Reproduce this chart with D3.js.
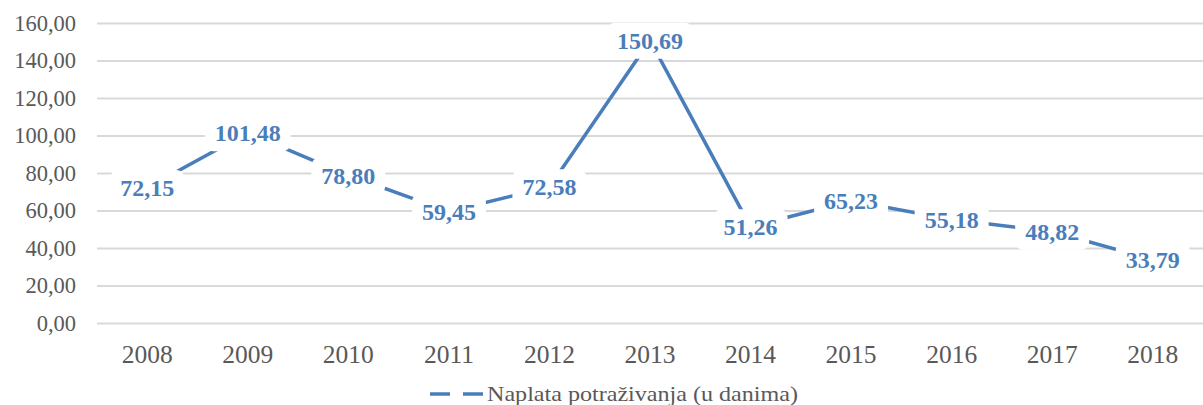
<!DOCTYPE html>
<html><head><meta charset="utf-8">
<script src="https://cdn.jsdelivr.net/npm/d3@7"></script>
<style>body{margin:0;background:#fff}svg{display:block}</style>
</head><body>
<svg id="c" width="1203" height="405"></svg>
<script>
const categories = ["2008","2009","2010","2011","2012","2013","2014","2015","2016","2017","2018"];
const values = [72.15,101.48,78.80,59.45,72.58,150.69,51.26,65.23,55.18,48.82,33.79];
const yTicks = [0,20,40,60,80,100,120,140,160];
const seriesName = "Naplata potraživanja (u danima)";

const svg = d3.select("#c");
const W = 1203, H = 405;
const m = {left: 97, right: 0, top: 23, bottom: 82};
const x = d3.scaleBand().domain(categories).range([m.left, W - m.right]);
const y = d3.scaleLinear().domain([0,160]).range([H - m.bottom, m.top]);
const fmt = v => v.toFixed(2).replace(".", ",");
const color = "#4a7ebb";
const font = "'Liberation Serif','Times New Roman',serif";

// grid + y axis
const yAxis = d3.axisLeft(y).tickValues(yTicks).tickFormat(fmt).tickSize(-(W - m.left - m.right)).tickPadding(21);
const gy = svg.append("g").attr("transform", `translate(${m.left},0)`).call(yAxis);
gy.select(".domain").remove();
gy.selectAll(".tick line").attr("stroke", "#d9d9d9").attr("stroke-width", 2);
gy.selectAll(".tick text").attr("fill", "#595959").style("font-family", font).style("font-size", "22.5px");

// x axis
const xAxis = d3.axisBottom(x).tickSize(0).tickPadding(0);
const gx = svg.append("g").attr("transform", `translate(0,${H - m.bottom})`).call(xAxis);
gx.select(".domain").remove();
gx.selectAll(".tick text").attr("y", 31).attr("dy", "0.35em").attr("fill", "#595959")
  .style("font-family", font).style("font-size", "25.5px");

const cx = d => x(d) + x.bandwidth()/2;
const line = d3.line().x((d,i) => cx(categories[i])).y(d => y(d));
svg.append("path").datum(values).attr("d", line).attr("fill","none").attr("stroke", color).attr("stroke-width", 3.5);

// data labels
const lg = svg.append("g");
values.forEach((v,i) => {
  const g = lg.append("g").attr("transform", `translate(${cx(categories[i])},${y(v)})`);
  const t = g.append("text").text(fmt(v)).attr("text-anchor","middle").attr("dy","0.35em")
    .attr("fill", color).style("font-family", font).style("font-size","24px").style("font-weight","bold");
  const bb = t.node().getBBox();
  g.insert("rect","text").attr("x", bb.x - 10).attr("y", bb.y - 5).attr("width", bb.width + 20).attr("height", bb.height + 10)
    .attr("rx", 8).attr("fill", "#fff");
});

// legend
const ly = 394;
svg.append("line").attr("x1", 430).attr("x2", 485).attr("y1", ly).attr("y2", ly)
  .attr("stroke", color).attr("stroke-width", 3.5).attr("stroke-dasharray", "20,13");
svg.append("text").attr("x", 487).attr("y", ly).attr("dy","0.33em").text(seriesName)
  .attr("textLength", 311).attr("lengthAdjust", "spacingAndGlyphs")
  .attr("fill","#595959").style("font-family", font).style("font-size","21px");
</script>
</body></html>
